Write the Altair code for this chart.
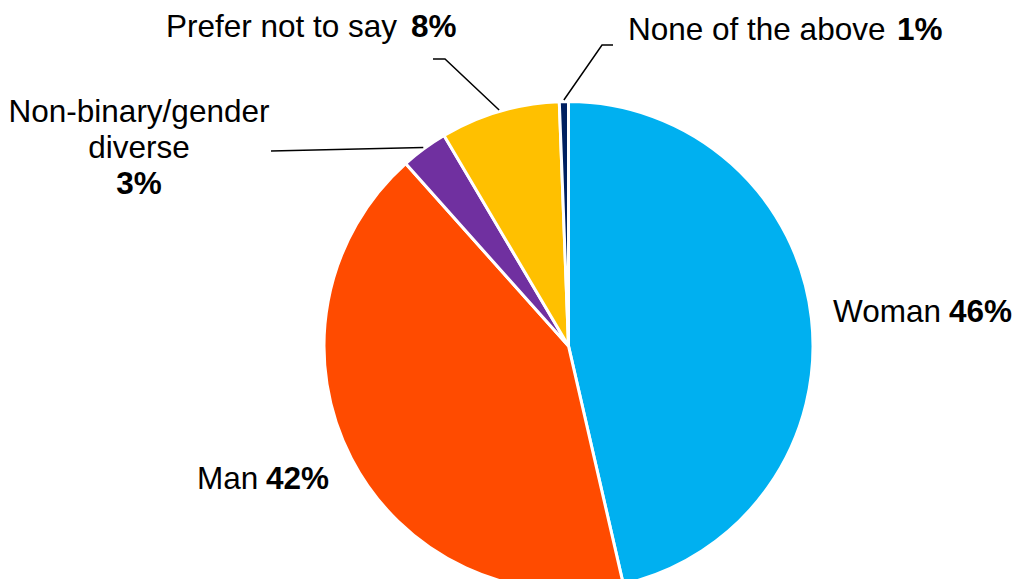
import altair as alt
import pandas as pd
import numpy as np

# ---- data ----
categories = ["Woman", "Man", "Non-binary/gender diverse", "Prefer not to say", "None of the above"]
shares = [46.4, 42.0, 3.1, 7.9, 0.6]
pct_labels = ["46%", "42%", "3%", "8%", "1%"]
colors = ["#00B0F0", "#FF4B00", "#7030A0", "#FFC000", "#002060"]

# ---- layout ----
W, H = 1005, 571
CX, CY = 560.5, 338.0
R = 244.5
FONT = "Liberation Sans"
FS = 31.5

pie_df = pd.DataFrame({"category": categories, "share": shares, "idx": range(len(categories))})

pie = alt.Chart(pie_df).mark_arc(outerRadius=R, stroke="white", strokeWidth=3).encode(
    theta=alt.Theta("share:Q", stack=True),
    color=alt.Color("category:N", scale=alt.Scale(domain=categories, range=colors), legend=None),
    order=alt.Order("idx:Q"),
    x=alt.value(CX),
    y=alt.value(CY),
)

# mid angles of slices (from the data) -> rim points for leader lines
sh = np.array(shares, dtype=float)
cum = np.cumsum(sh) - sh / 2
mid = cum / sh.sum() * 2 * np.pi
rim_r = R + 1.5
rim_x = CX + rim_r * np.sin(mid)
rim_y = CY - rim_r * np.cos(mid)

# leader lines: label-side points (layout) + rim point (from data)
leader_pts = {
    2: [(263, 143)],
    3: [(425, 51), (437, 51)],
    4: [(605, 37), (594, 37)],
}
rows = []
for i, pts in leader_pts.items():
    k = 0
    for (px, py) in pts:
        rows.append({"seg": categories[i], "k": k, "x": px, "y": py}); k += 1
    rows.append({"seg": categories[i], "k": k, "x": float(rim_x[i]), "y": float(rim_y[i])})
lead_df = pd.DataFrame(rows)

leaders = alt.Chart(lead_df).mark_line(color="black", strokeWidth=1.5).encode(
    x=alt.X("x:Q", scale=None, axis=None),
    y=alt.Y("y:Q", scale=None, axis=None),
    detail="seg:N",
    order="k:Q",
)

# labels (name normal, percentage bold)
lab_rows = [
    {"t": categories[0], "x": 825, "y": 314, "w": "n", "a": "l"},
    {"t": pct_labels[0], "x": 941, "y": 314, "w": "b", "a": "l"},
    {"t": categories[1], "x": 189, "y": 481, "w": "n", "a": "l"},
    {"t": pct_labels[1], "x": 258, "y": 481, "w": "b", "a": "l"},
    {"t": categories[3], "x": 158, "y": 29, "w": "n", "a": "l"},
    {"t": pct_labels[3], "x": 403, "y": 29, "w": "b", "a": "l"},
    {"t": categories[4], "x": 620, "y": 32, "w": "n", "a": "l"},
    {"t": pct_labels[4], "x": 889, "y": 32, "w": "b", "a": "l"},
    {"t": "Non-binary/gender", "x": 131, "y": 114, "w": "n", "a": "c"},
    {"t": "diverse", "x": 131, "y": 150, "w": "n", "a": "c"},
    {"t": pct_labels[2], "x": 131, "y": 186, "w": "b", "a": "c"},
]
lab_df = pd.DataFrame(lab_rows)

def text_layer(weight, align):
    return alt.Chart(lab_df).transform_filter(
        (alt.datum.w == weight) & (alt.datum.a == align)
    ).mark_text(
        font=FONT, fontSize=FS, fontWeight="bold" if weight == "b" else "normal",
        align="left" if align == "l" else "center", baseline="alphabetic", color="black",
    ).encode(
        x=alt.X("x:Q", scale=None, axis=None),
        y=alt.Y("y:Q", scale=None, axis=None),
        text="t:N",
    )

chart = alt.layer(
    pie, leaders,
    text_layer("n", "l"), text_layer("b", "l"),
    text_layer("n", "c"), text_layer("b", "c"),
).properties(
    width=W, height=H, autosize=alt.AutoSizeParams(type="none"), padding=0,
).configure_view(stroke=None)

chart.save("out.html", embed_options={"renderer": "svg", "actions": False})
